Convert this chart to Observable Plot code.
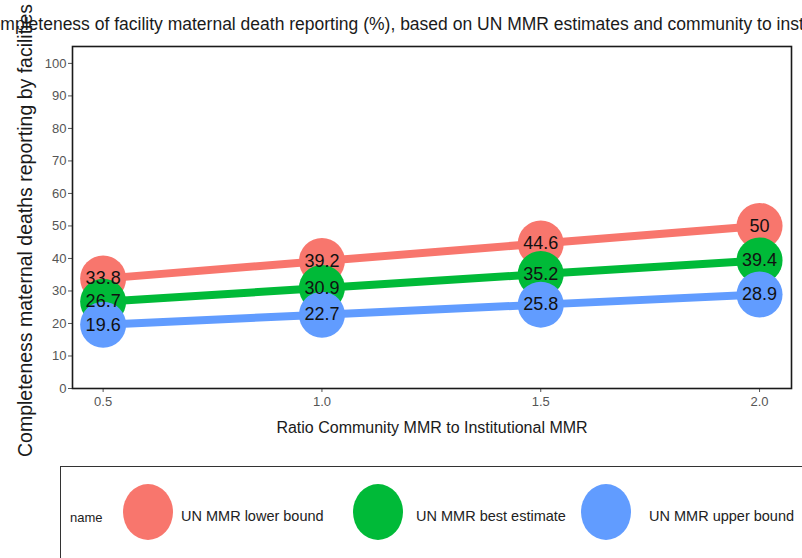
<!DOCTYPE html>
<html>
<head>
<meta charset="utf-8">
<script src="https://cdn.jsdelivr.net/npm/d3@7"></script>
<script src="https://cdn.jsdelivr.net/npm/@observablehq/plot@0.6"></script>
<style>
  html, body { margin: 0; padding: 0; background: #fff; }
  #wrap { position: relative; width: 802px; height: 558px; overflow: hidden; font-family: "Liberation Sans", Arial, sans-serif; }
  #title { position: absolute; top: 14px; left: -22px; white-space: nowrap; font-size: 17.5px; color: #1a1a1a; z-index: 0; }
  #chart { position: absolute; top: 0; left: 0; z-index: 1; }
  #legend { position: absolute; left: 60px; top: 466px; width: 800px; height: 120px; border: 1.5px solid #333; background: #fff; box-sizing: border-box; z-index: 2; }
  .lg-title { position: absolute; left: 9px; top: 43px; font-size: 13px; color: #222; }
  .lg-dot { position: absolute; top: 17px; width: 50px; height: 56px; border-radius: 50%; }
  .lg-lab { position: absolute; top: 41px; font-size: 14.5px; color: #222; white-space: nowrap; }
</style>
</head>
<body>
<div id="wrap">
  <div id="title"></div>
  <div id="chart"></div>
  <div id="legend"></div>
</div>
<script>
const titleText = "Completeness of facility maternal death reporting (%), based on UN MMR estimates and community to institutional MMR ratio";
const xLabel = "Ratio Community MMR to Institutional MMR";
const yLabel = "Completeness maternal deaths reporting by facilities";
const legendTitle = "name";

const ratios = [0.5, 1.0, 1.5, 2.0];
const seriesNames = ["UN MMR lower bound", "UN MMR best estimate", "UN MMR upper bound"];
const seriesColors = ["#F8766D", "#00BA38", "#619CFF"];
const lowerBound = [33.8, 39.2, 44.6, 50];
const bestEstimate = [26.7, 30.9, 35.2, 39.4];
const upperBound = [19.6, 22.7, 25.8, 28.9];
const yTicks = [0, 10, 20, 30, 40, 50, 60, 70, 80, 90, 100];

const seriesValues = [lowerBound, bestEstimate, upperBound];
const data = [];
seriesNames.forEach((name, s) => {
  ratios.forEach((r, i) => data.push({ratio: r, value: seriesValues[s][i], name}));
});

document.getElementById("title").textContent = titleText;

const plot = Plot.plot({
  width: 802,
  height: 558,
  marginLeft: 72,
  marginRight: 11,
  marginTop: 46,
  marginBottom: 170,
  style: { fontFamily: "'Liberation Sans', Arial, sans-serif", fontSize: "13px", background: "transparent", overflow: "visible" },
  x: { domain: [0.43, 2.073] },
  y: { domain: [0, 105.2] },
  color: { domain: seriesNames, range: seriesColors },
  marks: [
    Plot.axisY({ ticks: yTicks, tickSize: 4, tickPadding: 2, color: "#555", label: null, fontSize: 13 }),
    Plot.axisX({ ticks: ratios, tickFormat: d3.format(".1f"), tickSize: 4, tickPadding: 4, color: "#555", fontSize: 13,
      label: xLabel, labelAnchor: "center", labelArrow: "none", labelOffset: 44 }),
    Plot.text([yLabel], { text: d => d, frameAnchor: "left", textAnchor: "middle", rotate: -90, dx: -47, dy: 13, fontSize: 19.5, fill: "#1a1a1a" }),
    Plot.line(data, { x: "ratio", y: "value", z: "name", stroke: "name", strokeWidth: 8 }),
    Plot.dot(data, { x: "ratio", y: "value", fill: "name", r: 23 }),
    Plot.text(data, { x: "ratio", y: "value", text: d => String(d.value), fontSize: 18, fill: "#111" }),
    Plot.frame({ stroke: "#1a1a1a", strokeWidth: 1.6 })
  ]
});
document.getElementById("chart").appendChild(plot);
d3.select(plot).selectAll("[aria-label='x-axis label'] text").attr("font-size", 16).attr("fill", "#1a1a1a");

const lg = document.getElementById("legend");
const t = document.createElement("div");
t.className = "lg-title"; t.textContent = legendTitle; lg.appendChild(t);
const dotLeft = [62, 292, 520];
const labLeft = [120, 355, 588];
seriesNames.forEach((n, i) => {
  const d = document.createElement("div");
  d.className = "lg-dot"; d.style.left = dotLeft[i] + "px"; d.style.background = seriesColors[i];
  lg.appendChild(d);
  const l = document.createElement("div");
  l.className = "lg-lab"; l.style.left = labLeft[i] + "px"; l.textContent = n;
  lg.appendChild(l);
});
</script>
</body>
</html>
